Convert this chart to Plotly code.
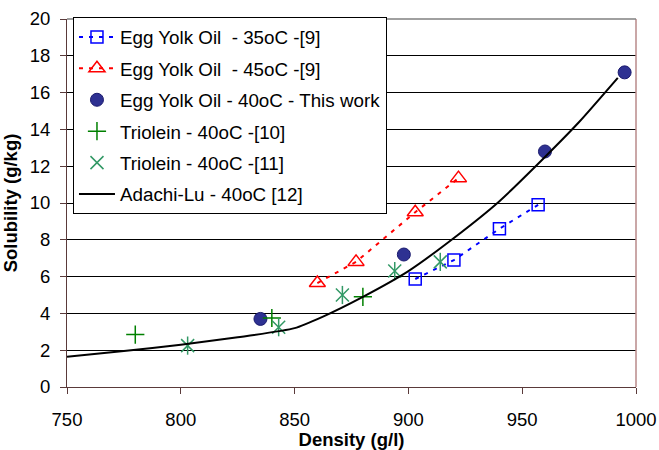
import plotly.graph_objects as go

# Data
eyo35_x = [903, 920, 940, 957]
eyo35_y = [5.87, 6.9, 8.6, 9.9]
eyo45_x = [860, 877, 903, 922]
eyo45_y = [5.65, 6.8, 9.5, 11.35]
eyo40_x = [835, 898, 960, 995]
eyo40_y = [3.7, 7.2, 12.8, 17.1]
tri10_x = [780, 840, 880]
tri10_y = [2.85, 3.75, 4.9]
tri11_x = [803, 843, 871, 894, 914]
tri11_y = [2.25, 3.25, 5.0, 6.3, 6.8]
adachi_x = [750, 775, 800, 825, 850, 862, 880, 900, 920, 940, 960, 975, 992]
adachi_y = [1.65, 1.95, 2.3, 2.7, 3.2, 3.8, 4.9, 6.3, 8.1, 10.1, 12.5, 14.4, 16.8]

names = [
    "Egg Yolk Oil  - 35oC -[9]",
    "Egg Yolk Oil  - 45oC -[9]",
    "Egg Yolk Oil - 40oC - This work",
    "Triolein - 40oC -[10]",
    "Triolein - 40oC -[11]",
    "Adachi-Lu - 40oC [12]",
]

FONT = "Liberation Sans, Arial, sans-serif"
fig = go.Figure()

fig.add_trace(go.Scatter(
    x=eyo35_x, y=eyo35_y, name=names[0], mode="lines+markers", legendgroup="a",
    line=dict(color="#0000FF", width=2, dash="4px,6px"),
    marker=dict(symbol="square-open", size=12, color="#0000FF", line=dict(width=1.5, color="#0000FF")),
))
fig.add_trace(go.Scatter(
    x=eyo45_x, y=eyo45_y, name=names[1], mode="lines+markers", legendgroup="b",
    line=dict(color="#FF0000", width=2, dash="4px,6px"),
    marker=dict(symbol="triangle-up-open", size=14, color="#FF0000", line=dict(width=1.5, color="#FF0000")),
))
fig.add_trace(go.Scatter(
    x=eyo40_x, y=eyo40_y, name=names[2], mode="markers", legendgroup="c",
    marker=dict(symbol="circle", size=13, color="#2E3192", line=dict(width=1, color="#1A1A6E")),
))
fig.add_trace(go.Scatter(
    x=tri10_x, y=tri10_y, name=names[3], mode="markers", legendgroup="d",
    marker=dict(symbol="cross-thin-open", size=13, color="#008000", line=dict(width=1.5, color="#008000")),
))
fig.add_trace(go.Scatter(
    x=tri11_x, y=tri11_y, name=names[4], mode="markers", legendgroup="e",
    marker=dict(symbol="x-thin-open", size=13, color="#339966", line=dict(width=1.5, color="#339966")),
))
fig.add_trace(go.Scatter(
    x=tri11_x, y=tri11_y, name=names[4], mode="markers", legendgroup="e", showlegend=False,
    marker=dict(symbol="line-ns-open", size=13, color="#339966", line=dict(width=1.5, color="#339966")),
))
fig.add_trace(go.Scatter(
    x=adachi_x, y=adachi_y, name=names[5], mode="lines", legendgroup="f",
    line=dict(color="#000000", width=2, shape="spline", smoothing=0.6),
))

fig.update_layout(
    width=659, height=450,
    margin=dict(l=67, r=23, t=19, b=63),
    paper_bgcolor="white", plot_bgcolor="white",
    font=dict(family=FONT, size=18.5, color="#000000"),
    showlegend=True,
    legend=dict(
        x=0.0105, y=1.005, xanchor="left", yanchor="top",
        bgcolor="white", bordercolor="#000000", borderwidth=1,
        font=dict(family=FONT, size=18.8, color="#000000"),
        traceorder="grouped", tracegroupgap=4, itemwidth=36,
    ),
    xaxis=dict(
        range=[750, 1000], dtick=50, tick0=750, showgrid=False, zeroline=False,
        showline=True, linecolor="#5A3A3A", linewidth=1, mirror=False,
        ticks="outside", ticklen=6, tickcolor="#5A3A3A", automargin=False,
        tickfont=dict(family=FONT, size=18.5), ticklabelstandoff=10,
        title=dict(text="<b>Density (g/l)</b>", font=dict(family=FONT, size=18.5), standoff=2),
    ),
    yaxis=dict(
        range=[0, 20], dtick=2, tick0=0, showgrid=True, gridcolor="#000000", gridwidth=1,
        zeroline=False, showline=True, linecolor="#5A3A3A", linewidth=1, automargin=False,
        ticks="outside", ticklen=6, tickcolor="#5A3A3A",
        tickfont=dict(family=FONT, size=18.5), ticklabelstandoff=6,
        title=dict(text="<b>Solubility (g/kg)</b>", font=dict(family=FONT, size=18.5), standoff=7),
    ),
    shapes=[
        dict(type="line", xref="paper", yref="paper", x0=1, x1=1, y0=0, y1=1,
             line=dict(color="#B88A8A", width=1.5)),
        dict(type="line", xref="paper", yref="paper", x0=0, x1=1, y0=1, y1=1,
             line=dict(color="#808080", width=1.5)),
    ],
)

fig.write_html("out.html")
